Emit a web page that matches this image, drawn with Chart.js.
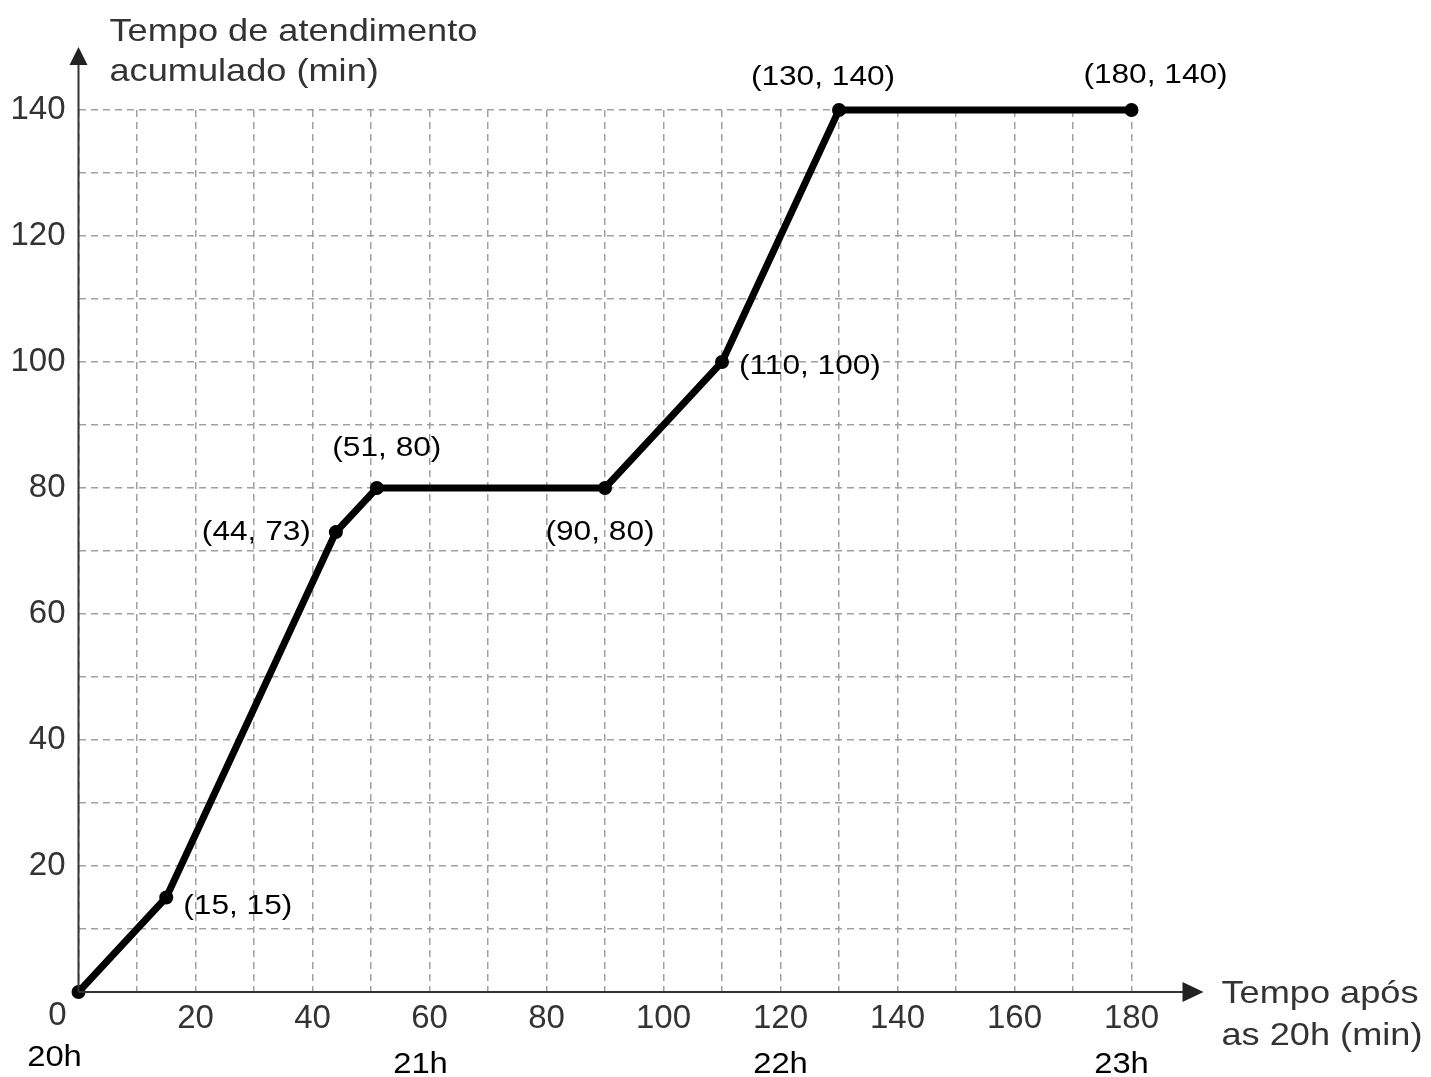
<!DOCTYPE html>
<html>
<head>
<meta charset="utf-8">
<script src="https://cdn.jsdelivr.net/npm/chart.js@4"></script>
<style>
  body { margin: 0; background: #fff; }
  #wrap { width: 1431px; height: 1077px; }
</style>
</head>
<body>
<div id="wrap"><canvas id="chart"></canvas></div>
<script>
// tempo após as 20h (min) x tempo de atendimento acumulado (min)
const minutes = [0, 15, 44, 51, 90, 110, 130, 180];
const accumulated = [0, 15, 73, 80, 80, 100, 140, 140];
const hourMinutes = [0, 60, 120, 180];
const hourLabels = ['20h', '21h', '22h', '23h'];
const yTitle = ['Tempo de atendimento', 'acumulado (min)'];
const xTitle = ['Tempo após', 'as 20h (min)'];

// where each point label sits relative to its point
const labelPlace = [
  null,
  { align: 'left', dx: 17, dy: 9 },
  { align: 'right', dx: -25, dy: 0 },
  { align: 'center', dx: 10, dy: -40 },
  { align: 'center', dx: -5, dy: 44 },
  { align: 'left', dx: 17, dy: 4 },
  { align: 'center', dx: -16, dy: -33 },
  { align: 'center', dx: 24, dy: -35 }
];

const FONT = '"Liberation Sans", Arial, sans-serif';
const STRETCH = 1.13; // the original lettering is a bit wider than Arial

function wideText(ctx, text, x, y, align) {
  ctx.save();
  ctx.translate(x, y);
  ctx.scale(STRETCH, 1);
  ctx.textAlign = align;
  ctx.fillText(text, 0, 0);
  ctx.restore();
}

const extras = {
  id: 'extras',
  afterDatasetsDraw(chart) {
    const ctx = chart.ctx;
    const { left, right, top, bottom } = chart.chartArea;
    const xs = chart.scales.x, ys = chart.scales.y;
    ctx.save();

    // axes with arrows
    ctx.strokeStyle = '#333';
    ctx.fillStyle = '#222';
    ctx.lineWidth = 2;
    ctx.beginPath();
    ctx.moveTo(left, bottom);
    ctx.lineTo(left, top - 50);
    ctx.moveTo(left, bottom);
    ctx.lineTo(right + 55, bottom);
    ctx.stroke();
    ctx.beginPath();
    ctx.moveTo(left, top - 63);
    ctx.lineTo(left - 9, top - 45);
    ctx.lineTo(left + 9, top - 45);
    ctx.closePath();
    ctx.fill();
    ctx.beginPath();
    ctx.moveTo(right + 72, bottom);
    ctx.lineTo(right + 51, bottom - 10);
    ctx.lineTo(right + 51, bottom + 10);
    ctx.closePath();
    ctx.fill();

    // zero label of x axis, set apart from the axis
    ctx.font = '33px ' + FONT;
    ctx.fillStyle = '#333';
    ctx.textAlign = 'center';
    ctx.textBaseline = 'middle';
    ctx.fillText('0', xs.getPixelForValue(0) - 21, bottom + 24);

    // axis titles
    ctx.font = '32px ' + FONT;
    yTitle.forEach((t, i) => wideText(ctx, t, left + 31, top - 78 + i * 40, 'left'));
    xTitle.forEach((t, i) => wideText(ctx, t, right + 90, bottom + 2 + i * 42, 'left'));

    // hour labels
    ctx.fillStyle = '#000';
    ctx.font = '29px ' + FONT;
    hourMinutes.forEach((m, i) => {
      const dx = i === 0 ? -24 : (i === 3 ? -10 : (i === 1 ? -9 : 0));
      const dy = i === 0 ? 66 : 73;
      wideText(ctx, hourLabels[i], xs.getPixelForValue(m) + dx, bottom + dy, 'center');
    });

    // point labels
    ctx.font = '28px ' + FONT;
    minutes.forEach((m, i) => {
      const p = labelPlace[i];
      if (!p) return;
      wideText(ctx, '(' + m + ', ' + accumulated[i] + ')',
        xs.getPixelForValue(m) + p.dx, ys.getPixelForValue(accumulated[i]) + p.dy, p.align);
    });
    ctx.restore();
  }
};

new Chart(document.getElementById('chart'), {
  type: 'line',
  data: {
    datasets: [{
      data: minutes.map((m, i) => ({ x: m, y: accumulated[i] })),
      borderColor: '#000',
      backgroundColor: '#000',
      borderWidth: 7,
      pointRadius: 7,
      pointBackgroundColor: '#000',
      pointBorderWidth: 0,
      tension: 0,
      clip: false
    }]
  },
  options: {
    responsive: true,
    maintainAspectRatio: false,
    animation: false,
    layout: { padding: { left: 0, top: 110, right: 299.5, bottom: 0 } },
    plugins: { legend: { display: false }, tooltip: { enabled: false } },
    scales: {
      x: {
        type: 'linear',
        min: 0, max: 180,
        afterFit: s => { s.height = 85; },
        grid: { color: '#a0a0a0', lineWidth: 1.5, drawTicks: false },
        border: { display: false, dash: [7, 5] },
        ticks: {
          stepSize: 10, autoSkip: false, maxRotation: 0, padding: 7,
          color: '#333', font: { size: 33, family: FONT },
          callback: v => (v % 20 === 0 && v !== 0) ? String(v) : ''
        }
      },
      y: {
        min: 0, max: 140,
        afterFit: s => { s.width = 78.5; },
        grid: { color: '#a0a0a0', lineWidth: 1.5, drawTicks: false },
        border: { display: false, dash: [7, 5] },
        ticks: {
          stepSize: 10, autoSkip: false, padding: 13,
          color: '#333', font: { size: 33, family: FONT },
          callback: v => (v % 20 === 0 && v !== 0) ? String(v) : ''
        }
      }
    }
  },
  plugins: [extras]
});
</script>
</body>
</html>
